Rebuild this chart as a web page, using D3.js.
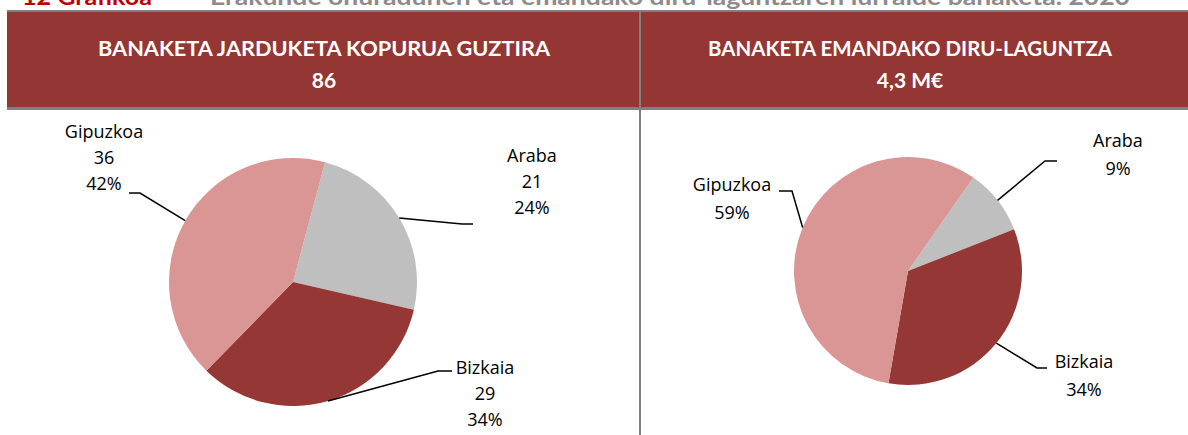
<!DOCTYPE html>
<html>
<head>
<meta charset="utf-8">
<script src="https://cdn.jsdelivr.net/npm/d3@7"></script>
<style>
  html, body { margin: 0; padding: 0; background: #fff; }
  svg { display: block; }
</style>
</head>
<body>
<div class="container"></div>
<script>
// data
const regions = ["Araba", "Bizkaia", "Gipuzkoa"];
const actionCounts = [21, 29, 36];          // left pie, total 86
const actionPct = ["24%", "34%", "42%"];
const grantValues = [0.40, 1.45, 2.45];     // right pie, M euro, total 4,3
const grantPct = ["9%", "34%", "59%"];
const headerTitles = ["BANAKETA JARDUKETA KOPURUA GUZTIRA", "BANAKETA EMANDAKO DIRU-LAGUNTZA"];
const headerTotals = ["86", "4,3 M€"];

const w = 1188, h = 435;
const colors = d3.scaleOrdinal().domain(regions).range(["#bfbfbf", "#953735", "#d99694"]);
const font = "'Open Sans', 'DejaVu Sans', sans-serif";
const headFont = "Lato, 'Open Sans', sans-serif";

const svg = d3.select(".container").append("svg")
  .attr("width", w).attr("height", h);

// cut-off title at the very top
const title = svg.append("text")
  .attr("y", 5)
  .attr("font-family", headFont)
  .attr("font-weight", "bold")
  .attr("font-size", 22);
title.append("tspan").attr("x", 22).attr("fill", "#c00000")
  .attr("textLength", 130).attr("lengthAdjust", "spacingAndGlyphs")
  .text("12 Grafikoa");
title.append("tspan").attr("x", 210).attr("fill", "#8c8c8c")
  .attr("textLength", 920).attr("lengthAdjust", "spacingAndGlyphs")
  .text("Erakunde onuradunen eta emandako diru-laguntzaren lurralde banaketa. 2020");

// header band
svg.append("rect").attr("x", 7).attr("y", 10).attr("width", w - 7).attr("height", 2).attr("fill", "#808080");
svg.append("rect").attr("x", 7).attr("y", 12).attr("width", w - 7).attr("height", 96).attr("fill", "#943634");
svg.append("rect").attr("x", 7).attr("y", 107).attr("width", w - 7).attr("height", 3).attr("fill", "#808080");
svg.append("rect").attr("x", 639).attr("y", 12).attr("width", 2).attr("height", h - 12).attr("fill", "#808080");

const heads = [
  { cx: 324, width: 452 },
  { cx: 910, width: 404 }
];
heads.forEach((hd, i) => {
  svg.append("text")
    .attr("x", hd.cx).attr("y", 56)
    .attr("text-anchor", "middle")
    .attr("fill", "#fff")
    .attr("font-family", headFont)
    .attr("font-weight", "bold")
    .attr("font-size", 21)
    .attr("textLength", hd.width).attr("lengthAdjust", "spacingAndGlyphs")
    .text(headerTitles[i]);
  svg.append("text")
    .attr("x", hd.cx).attr("y", 88)
    .attr("text-anchor", "middle")
    .attr("fill", "#fff")
    .attr("font-family", headFont)
    .attr("font-weight", "bold")
    .attr("font-size", 21)
    .text(headerTotals[i]);
});

// pies
const pies = [
  {
    cx: 293, cy: 282, r: 124, start: 15,
    values: actionCounts,
    lines: (i) => [regions[i], String(actionCounts[i]), actionPct[i]],
    step: 26,
    // elbow, end of leader and label anchor, relative to the centre
    lay: [
      { ex: 169, ey: -58, tx: 180, lx: 239, ly: -120 },
      { ex: 145, ey: 89, tx: 159, lx: 192, ly: 92 },
      { ex: -153, ey: -89, tx: -164, lx: -189, ly: -144 }
    ]
  },
  {
    cx: 908, cy: 271, r: 114, start: 35,
    values: grantValues,
    lines: (i) => [regions[i], grantPct[i]],
    step: 28,
    lay: [
      { ex: 137, ey: -110, tx: 149, lx: 210, ly: -124 },
      { ex: 129, ey: 97, tx: 139, lx: 176, ly: 97 },
      { ex: -116, ey: -80, tx: -129, lx: -176, ly: -80 }
    ]
  }
];

pies.forEach((p) => {
  const a0 = p.start * Math.PI / 180;
  const pie = d3.pie().sort(null).value((d) => d)
    .startAngle(a0).endAngle(a0 + 2 * Math.PI);
  const arcs = pie(p.values);
  const arc = d3.arc().innerRadius(0).outerRadius(p.r);
  const edge = d3.arc().innerRadius(p.r).outerRadius(p.r);

  const g = svg.append("g").attr("transform", "translate(" + p.cx + "," + p.cy + ")");

  g.selectAll("path.slice")
    .data(arcs)
    .enter()
    .append("path")
    .attr("class", "slice")
    .attr("d", arc)
    .attr("fill", (d, i) => colors(regions[i]));

  arcs.forEach((d, i) => {
    const L = p.lay[i];
    const e = edge.centroid(d);
    g.append("path")
      .attr("d", d3.line()([[e[0], e[1]], [L.ex, L.ey], [L.tx, L.ey]]))
      .attr("fill", "none")
      .attr("stroke", "#000")
      .attr("stroke-width", 1.5);

    const lines = p.lines(i);
    const t = g.append("text")
      .attr("text-anchor", "middle")
      .attr("font-family", font)
      .attr("font-size", 18)
      .attr("fill", "#000");
    lines.forEach((s, k) => {
      t.append("tspan")
        .attr("x", L.lx)
        .attr("y", L.ly + k * p.step)
        .text(s);
    });
  });
});
</script>
</body>
</html>
